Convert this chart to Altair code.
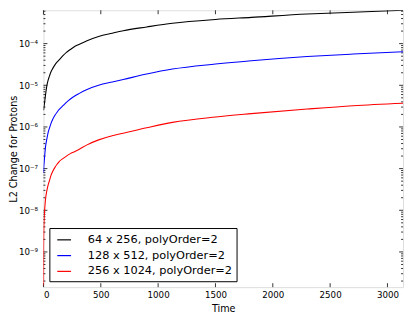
import altair as alt
import pandas as pd

# Data (y values on a log axis, x = Time)
series_names = ["64 x 256, polyOrder=2", "128 x 512, polyOrder=2", "256 x 1024, polyOrder=2"]
series_colors = ["#000000", "#0000ff", "#ff0000"]

t_black = [1, 3, 5, 9, 17, 30, 40, 52, 65, 80, 100, 120, 137, 170, 200, 235, 266, 309, 380, 481, 600, 696,
           900, 1125, 1500, 1813, 2300, 2700, 3136]
log_black = [-5.6, -5.56, -5.51, -5.43, -5.25, -5.0, -4.88, -4.78, -4.68, -4.6, -4.51, -4.44, -4.39, -4.29,
             -4.21, -4.14, -4.08, -4.02, -3.93, -3.83, -3.75, -3.69, -3.6, -3.51, -3.42, -3.37, -3.29,
             -3.245, -3.2]

t_blue = [1, 3, 5, 9, 17, 30, 40, 52, 65, 80, 100, 120, 137, 170, 200, 235, 266, 309, 380, 481, 600, 696,
          900, 1125, 1500, 1813, 2300, 2700, 3136]
log_blue = [-7.1, -6.95, -6.88, -6.75, -6.5, -6.28, -6.14, -6.03, -5.92, -5.82, -5.72, -5.64, -5.58, -5.49,
            -5.41, -5.33, -5.27, -5.2, -5.1, -5.0, -4.92, -4.86, -4.73, -4.61, -4.49, -4.41, -4.31,
            -4.25, -4.195]

t_red = [0.3, 1, 3, 5, 9, 17, 30, 40, 52, 65, 80, 100, 120, 137, 170, 200, 235, 266, 309, 380, 481, 600,
         696, 900, 1125, 1500, 1813, 2300, 2700, 3136]
log_red = [-9.8, -8.9, -8.45, -8.25, -8.05, -7.76, -7.52, -7.4, -7.29, -7.17, -7.07, -6.97, -6.89, -6.83,
           -6.76, -6.7, -6.64, -6.6, -6.54, -6.43, -6.31, -6.21, -6.15, -6.02, -5.89, -5.76, -5.68,
           -5.57, -5.49, -5.43]

x_ticks = [0, 500, 1000, 1500, 2000, 2500, 3000]
y_major = [1e-9, 1e-8, 1e-7, 1e-6, 1e-5, 1e-4]

y_lo, y_hi = 10 ** -9.845, 10 ** -3.2
x_lo, x_hi = 0, 3136

rows = []
for name, ts, ls in zip(series_names, [t_black, t_blue, t_red], [log_black, log_blue, log_red]):
    for t, l in zip(ts, ls):
        rows.append({"Time": t, "val": 10 ** l, "series": name})
df = pd.DataFrame(rows)

y_minor = []
for e in range(-10, -3):
    for k in range(2, 10):
        v = k * 10.0 ** e
        if y_lo <= v <= y_hi:
            y_minor.append(v)

W, H = 365, 281
FONT = "DejaVu Sans"

xscale = alt.Scale(domain=[x_lo, x_hi], nice=False, zero=False)
yscale = alt.Scale(type="log", domain=[y_lo, y_hi], nice=False)

sup = "['⁰','¹','²','³','⁴','⁵','⁶','⁷','⁸','⁹']"
lines = alt.Chart(df).mark_line(strokeWidth=1.1, clip=True, interpolate="monotone").encode(
    x=alt.X("Time:Q", scale=xscale,
            axis=alt.Axis(values=x_ticks, format="d", title="Time", ticks=False, domain=False,
                          grid=False, labelPadding=4, labelFontSize=8.8, titleFontSize=9.8,
                          titlePadding=4, labelFont=FONT, titleFont=FONT, titleFontWeight="normal",
                          labelColor="#000", titleColor="#000")),
    y=alt.Y("val:Q", scale=yscale,
            axis=alt.Axis(values=y_major, title="L2 Change for Protons", ticks=False, domain=False,
                          grid=False, labelPadding=6, labelFontSize=8.8, titleFontSize=9.8,
                          titleX=-30, titleY=H / 2, titleAngle=270, titleAlign="center",
                          titleBaseline="middle",
                          labelFont=FONT, titleFont=FONT, titleFontWeight="normal",
                          labelColor="#000", titleColor="#000",
                          labelExpr="'10⁻' + " + sup + "[round(-log(datum.value)/LN10)]")),
    color=alt.Color("series:N", sort=series_names,
                    scale=alt.Scale(domain=series_names, range=series_colors),
                    legend=alt.Legend(title=None, orient="bottom-left", offset=6, symbolType="stroke",
                                      symbolSize=196, symbolStrokeWidth=1.2, labelFontSize=11.5,
                                      labelFont=FONT, labelColor="#000", strokeColor="#000",
                                      fillColor="white", padding=4, rowPadding=2, symbolOffset=3,
                                      labelOffset=16, labelLimit=400, cornerRadius=0)),
)

ymaj_df = pd.DataFrame({"v": y_major})
ymin_df = pd.DataFrame({"v": y_minor})
xt_df = pd.DataFrame({"t": x_ticks})

def yticks(d, L):
    left = alt.Chart(d).mark_rule(color="#000", strokeWidth=0.8).encode(
        y=alt.Y("v:Q", scale=yscale, axis=None), x=alt.value(0), x2=alt.value(L))
    right = alt.Chart(d).mark_rule(color="#000", strokeWidth=0.8).encode(
        y=alt.Y("v:Q", scale=yscale, axis=None), x=alt.value(W), x2=alt.value(W - L))
    return [left, right]

xb = alt.Chart(xt_df).mark_rule(color="#000", strokeWidth=0.8).encode(
    x=alt.X("t:Q", scale=xscale, axis=None), y=alt.value(H), y2=alt.value(H - 4))
xtp = alt.Chart(xt_df).mark_rule(color="#000", strokeWidth=0.8).encode(
    x=alt.X("t:Q", scale=xscale, axis=None), y=alt.value(0), y2=alt.value(4))

chart = alt.layer(*yticks(ymaj_df, 4), *yticks(ymin_df, 2), xb, xtp, lines).resolve_axis(
    x="independent", y="independent"
).properties(
    width=W, height=H,
    padding={"left": 36, "top": 0, "right": 4, "bottom": 30},
    autosize=alt.AutoSizeParams(type="none"),
).configure_view(stroke="#000", strokeWidth=1).configure(background="white")

chart.save("out.html", embed_options={"renderer": "svg", "actions": False})
